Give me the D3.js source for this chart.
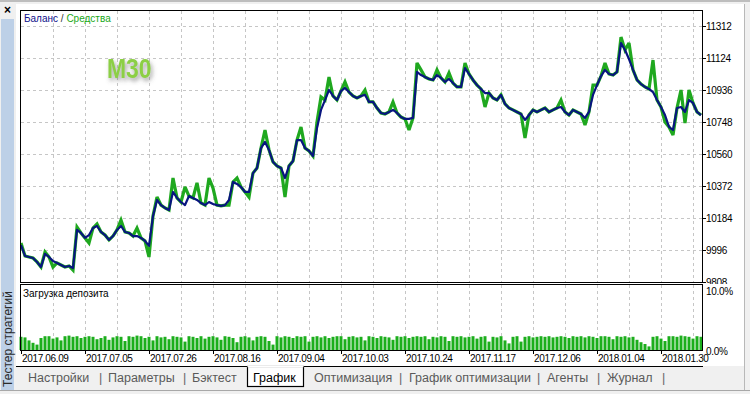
<!DOCTYPE html>
<html><head><meta charset="utf-8">
<script src="https://cdn.jsdelivr.net/npm/d3@7"></script>
<style>
html,body{margin:0;padding:0;background:#f0f0f0;}
svg{display:block;font-family:"Liberation Sans",Arial,sans-serif;}
</style></head>
<body>
<svg id="c" width="750" height="394"></svg>
<script>
// ---- DATA ----
const dateLabels = ["2017.06.09","2017.07.05","2017.07.26","2017.08.16","2017.09.04","2017.10.03","2017.10.24","2017.11.17","2017.12.06","2018.01.04","2018.01.30"];
const valueTicks = [9808, 9996, 10184, 10372, 10560, 10748, 10936, 11124, 11312];
const loadTicks = [0, 10];
const balance = [10025,9961,9955,9949,9926,9896,9973,9955,9931,9920,
9908,9896,9902,9890,10114,10096,10067,10084,10125,10137,
10102,10084,10055,10078,10114,10137,10102,10096,10078,10078,
10067,10049,10020,10196,10290,10260,10243,10231,10337,10302,
10278,10260,10313,10302,10290,10272,10260,10278,10266,10260,
10255,10260,10290,10396,10384,10366,10337,10337,10448,10478,
10595,10631,10584,10513,10490,10478,10419,10490,10519,10642,
10642,10595,10578,10548,10713,10819,10877,10936,10901,10877,
10930,10948,10924,10901,10889,10901,10907,10866,10866,10830,
10801,10795,10807,10819,10801,10777,10766,10766,10772,11042,
11024,11012,11001,10995,11024,11007,10983,11001,10977,10954,
10954,11065,11030,10995,10965,10942,10918,10918,10889,10877,
10907,10854,10830,10819,10807,10795,10760,10789,10819,10807,
10819,10830,10807,10819,10830,10836,10807,10789,10819,10807,
10795,10772,10807,10907,10965,11018,11054,11030,11024,11042,
11212,11171,11118,11054,10995,10971,10954,10942,10924,10877,
10836,10789,10719,10701,10830,10836,10807,10877,10860,10807,
10789];
const equity = [10037,9961,9955,9949,9926,9896,9984,9955,9896,9920,
9908,9896,9902,9878,10131,10096,10067,10037,10125,10149,
10102,10084,10055,10078,10114,10172,10102,10096,10078,10125,
10067,10049,9955,10196,10307,10260,10243,10231,10419,10302,
10278,10366,10313,10302,10390,10272,10260,10419,10360,10260,
10255,10260,10260,10396,10419,10366,10337,10307,10448,10478,
10595,10701,10584,10513,10490,10478,10307,10490,10519,10642,
10719,10595,10578,10548,10748,10895,10877,11012,10901,10877,
10930,10983,10924,10901,10889,10901,10936,10866,10866,10830,
10801,10795,10807,10866,10801,10777,10766,10701,10772,11095,
11054,11012,11001,10995,11054,11007,10983,11036,10977,10954,
10954,11095,11030,10995,10965,10942,10836,10918,10889,10877,
10907,10854,10830,10819,10807,10795,10654,10789,10819,10807,
10819,10830,10807,10819,10830,10877,10807,10789,10819,10807,
10795,10730,10807,10965,10965,11018,11095,11030,11024,11042,
11247,11171,11212,11054,10995,10971,10954,10942,11112,10877,
10836,10748,10719,10672,10830,10936,10742,10936,10860,10807,
10789];
const loads = [2.2,2.1,1.6,1.2,0.9,2.0,2.3,2.3,1.9,2.1,
1.6,2.3,2.4,2.2,2.3,2.0,2.2,2.3,2.2,1.8,
2.0,2.3,1.7,2.1,2.3,2.2,1.5,2.3,2.2,2.4,
2.3,2.0,2.2,1.6,2.3,2.1,2.2,1.8,2.3,2.2,
2.1,1.4,2.3,2.2,2.0,2.3,1.9,2.2,2.3,2.1,
1.7,2.3,2.2,2.0,1.3,2.2,2.3,2.1,1.6,2.2,
2.3,2.2,1.5,0.9,2.3,2.1,2.3,2.2,2.0,2.3,
2.2,2.3,1.4,2.2,2.3,2.1,2.3,2.0,2.2,2.3,
2.3,1.8,2.2,2.3,2.1,2.2,1.6,2.3,2.2,2.0,
2.3,2.2,2.1,1.7,2.3,2.2,2.3,2.0,2.2,2.3,
2.2,2.3,1.8,2.2,2.1,2.3,2.2,1.5,2.3,2.2,
2.3,2.1,2.2,2.3,1.9,2.2,2.3,1.4,2.2,2.1,
2.3,1.6,1.1,2.2,2.3,1.4,2.2,2.3,2.1,2.2,
2.3,2.2,2.3,2.1,2.2,2.3,2.2,2.0,2.3,2.2,
2.3,2.1,2.3,2.2,2.0,2.3,2.3,2.2,1.8,2.3,
2.2,2.3,2.1,2.2,1.7,1.3,1.0,0.6,2.2,2.3,
1.9,1.5,2.3,2.3,2.2,2.4,2.3,2.2,1.9,2.3,
2.2];
const tabs = ["Настройки","Параметры","Бэктест","График","Оптимизация","График оптимизации","Агенты","Журнал"];
const activeTab = "График";

// ---- LAYOUT ----
const svg = d3.select("#c");
const L = 20, R = 702, T = 10, B = 282, ST = 284, SB = 350;
const n = balance.length;
const x = d3.scaleLinear().domain([0, n - 1]).range([L + 1, R - 1]);
const y = d3.scaleLinear().domain([9808, 11312]).range([B, B - 256]);
const ys = d3.scaleLinear().domain([0, 10]).range([SB, SB - 60]);
const dateIdx = dateLabels.map((d, k) => k * 16);
const gridIdx = d3.range(8, n, 8);

// background pieces
svg.append("rect").attr("width", 750).attr("height", 394).attr("fill", "#f0f0f0");
svg.append("rect").attr("x", 0).attr("y", 0).attr("width", 750).attr("height", 2).attr("fill", "#bdbdbd");
svg.append("rect").attr("x", 16).attr("y", 4).attr("width", 728).attr("height", 362).attr("fill", "#fff");
svg.append("line").attr("x1", 744.5).attr("x2", 744.5).attr("y1", 4).attr("y2", 390).attr("stroke", "#b8b8b8");
svg.append("rect").attr("x", 1).attr("y", 19).attr("width", 13).attr("height", 371).attr("fill", "#bdd0e7");
svg.append("line").attr("x1", 0).attr("x2", 750).attr("y1", 390.5).attr("y2", 390.5).attr("stroke", "#a8a8a8");
svg.append("text").attr("x", 7.5).attr("y", 14).attr("text-anchor", "middle")
  .attr("font-size", 12).attr("font-weight", "bold").attr("fill", "#000").text("×");
svg.append("text").attr("transform", "translate(11.5,339) rotate(-90)").attr("text-anchor", "middle")
  .attr("font-size", 12).attr("fill", "#2a2a2a").text("Тестер стратегий");

// defs
const defs = svg.append("defs");
defs.append("clipPath").attr("id", "mainClip").append("rect")
  .attr("x", L + 1).attr("y", T + 1).attr("width", R - L - 1).attr("height", B - T - 1);
defs.append("clipPath").attr("id", "lblClip").append("rect")
  .attr("x", R).attr("y", 0).attr("width", 48).attr("height", ST);
const f = defs.append("filter").attr("id", "sh").attr("x", "-30%").attr("y", "-30%").attr("width", "160%").attr("height", "160%");
f.append("feDropShadow").attr("dx", 2).attr("dy", 3).attr("stdDeviation", 2.2)
  .attr("flood-color", "#555").attr("flood-opacity", 0.55);

// grid
const dash = "3,3";
const gcol = "#c6c6c6";
svg.append("g").selectAll("line").data(valueTicks.slice(1)).join("line")
  .attr("x1", L + 1).attr("x2", R).attr("y1", d => Math.round(y(d)) + 0.5).attr("y2", d => Math.round(y(d)) + 0.5)
  .attr("stroke", gcol).attr("stroke-dasharray", dash);
svg.append("g").selectAll("line").data(gridIdx).join("line")
  .attr("x1", d => Math.round(x(d)) + 0.5).attr("x2", d => Math.round(x(d)) + 0.5)
  .attr("y1", T + 1).attr("y2", B).attr("stroke", gcol).attr("stroke-dasharray", dash);
svg.append("g").selectAll("line").data(gridIdx).join("line")
  .attr("x1", d => Math.round(x(d)) + 0.5).attr("x2", d => Math.round(x(d)) + 0.5)
  .attr("y1", ST + 1).attr("y2", SB).attr("stroke", gcol).attr("stroke-dasharray", dash);

// series
const gm = svg.append("g").attr("clip-path", "url(#mainClip)");
const lineGen = d3.line().x((d, i) => x(i)).y(d => y(d));
gm.append("path").attr("d", lineGen(equity)).attr("fill", "none").attr("stroke", "#1fa81f")
  .attr("stroke-width", 3.2).attr("stroke-linejoin", "miter").attr("stroke-miterlimit", 3);
gm.append("path").attr("d", lineGen(balance)).attr("fill", "none").attr("stroke", "#08157f")
  .attr("stroke-width", 2.2).attr("stroke-linejoin", "round");

// bars
svg.append("g").selectAll("rect").data(loads).join("rect")
  .attr("x", (d, i) => x(i) - 1.5).attr("width", 3)
  .attr("y", d => ys(d)).attr("height", d => SB - ys(d)).attr("fill", "#1cae1c");

// frames
svg.append("rect").attr("x", L + 0.5).attr("y", T + 0.5).attr("width", R - L).attr("height", B - T)
  .attr("fill", "none").attr("stroke", "#000");
svg.append("rect").attr("x", L + 0.5).attr("y", ST + 0.5).attr("width", R - L).attr("height", SB - ST)
  .attr("fill", "none").attr("stroke", "#000");

// right axis ticks + labels
svg.append("g").selectAll("line").data(valueTicks).join("line")
  .attr("x1", R).attr("x2", R + 4).attr("y1", d => Math.round(y(d)) + 0.5).attr("y2", d => Math.round(y(d)) + 0.5)
  .attr("stroke", "#000");
svg.append("g").attr("clip-path", "url(#lblClip)").selectAll("text").data(valueTicks).join("text")
  .attr("x", R + 4).attr("y", d => y(d) + 3.8).attr("font-size", 10).attr("letter-spacing", -0.3)
  .attr("fill", "#000").text(d => d);
svg.append("g").selectAll("text").data(loadTicks).join("text")
  .attr("x", R + 4).attr("y", d => ys(d) + 4.5).attr("font-size", 10).attr("letter-spacing", -0.3)
  .attr("fill", "#000").text(d => d.toFixed(1) + "%");

// date axis
svg.append("g").selectAll("line").data(dateIdx).join("line")
  .attr("x1", d => Math.round(x(d)) + 0.5).attr("x2", d => Math.round(x(d)) + 0.5)
  .attr("y1", SB).attr("y2", SB + 4).attr("stroke", "#000");
svg.append("g").selectAll("text").data(dateLabels).join("text")
  .attr("x", (d, k) => x(dateIdx[k]) + 1).attr("y", 362).attr("font-size", 10).attr("letter-spacing", -0.35)
  .attr("fill", "#000").text(d => d);

// titles
const t1 = svg.append("text").attr("x", 24).attr("y", 22).attr("font-size", 10);
t1.append("tspan").attr("fill", "#10108a").text("Баланс");
t1.append("tspan").attr("fill", "#333").text(" / ");
t1.append("tspan").attr("fill", "#18a818").text("Средства");
svg.append("text").attr("x", 23).attr("y", 297).attr("font-size", 10).attr("fill", "#000").text("Загрузка депозита");
svg.append("text").attr("transform", "translate(107,78) scale(0.85,1)").attr("font-size", 27)
  .attr("font-weight", "bold").attr("fill", "#8ccf45").attr("filter", "url(#sh)").text("M30");

// tab bar
svg.append("line").attr("x1", 16).attr("x2", 703).attr("y1", 366.5).attr("y2", 366.5).attr("stroke", "#000");
const tabX = [28, 108, 192, 253, 314, 409, 547, 607];
const sepX = [99, 183, 399, 537, 597, 662];
svg.append("rect").attr("x", 247.5).attr("y", 366.5).attr("width", 56).attr("height", 20)
  .attr("fill", "#fff").attr("stroke", "#000").attr("stroke-width", 1.2);
svg.append("line").attr("x1", 247.5).attr("x2", 303.5).attr("y1", 366.5).attr("y2", 366.5).attr("stroke", "#fff").attr("stroke-width", 1.5);
svg.append("g").selectAll("text").data(tabs).join("text")
  .attr("x", (d, k) => tabX[k]).attr("y", 382).attr("font-size", 12.5)
  .attr("fill", d => d === activeTab ? "#000" : "#5a5a5a").text(d => d);
svg.append("g").selectAll("text").data(sepX).join("text")
  .attr("x", d => d).attr("y", 382).attr("font-size", 12.5).attr("fill", "#666").text("|");
</script>
</body></html>
